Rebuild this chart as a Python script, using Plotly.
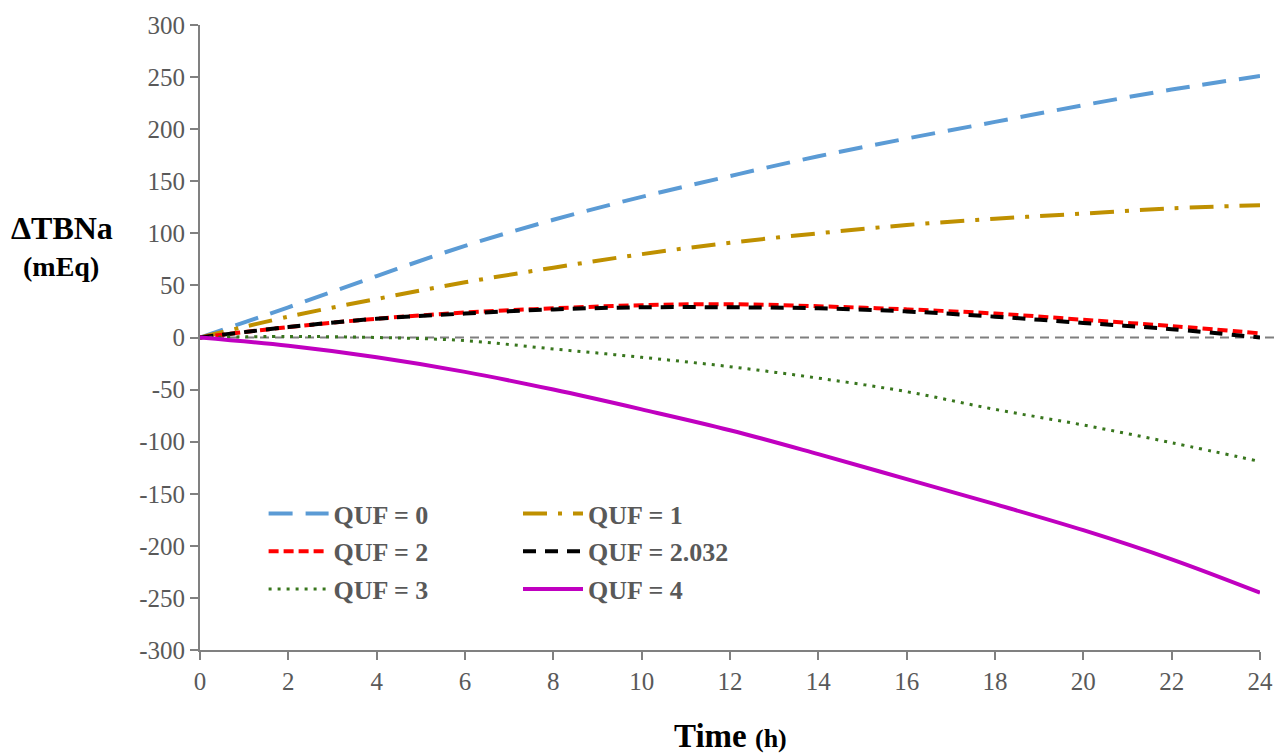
import plotly.graph_objects as go

time_h = [0, 2, 4, 6, 8, 10, 12, 14, 16, 18, 20, 22, 24]
quf_0 = [0, 29, 59, 88, 113, 135, 155, 174, 191, 207, 223, 238, 251]
quf_1 = [0, 20, 37, 53, 67, 80, 91, 100, 108, 114, 119, 124, 127]
quf_2 = [0, 10, 18, 24, 28, 31, 32, 30, 27, 23, 17, 11, 4]
quf_2032 = [0, 10, 18, 23, 27, 29, 29, 28, 25, 20, 14, 8, 0]
quf_3 = [0, 1, 0, -3, -11, -19, -28, -39, -52, -69, -84, -101, -119]
quf_4 = [0, -8, -19, -33, -50, -69, -89, -112, -136, -160, -185, -213, -245]

x_ticks = list(range(0, 25, 2))
y_ticks = list(range(-300, 301, 50))
y_tick_text = [str(v).replace("\u2212", "-") for v in y_ticks]

series = [
    ("QUF = 0", quf_0, "#5B9BD5", "24px,13px", 4, "legend"),
    ("QUF = 1", quf_1, "#BF9000", "24px,11px,4px,11px", 4, "legend2"),
    ("QUF = 2", quf_2, "#FF0000", "10px,5px", 4, "legend"),
    ("QUF = 2.032", quf_2032, "#000000", "13px,9px", 4, "legend2"),
    ("QUF = 3", quf_3, "#38761D", "3px,6px", 3, "legend"),
    ("QUF = 4", quf_4, "#C000C0", "solid", 4, "legend2"),
]

fig = go.Figure()
for i, (name, vals, color, dash, w, lg) in enumerate(series):
    fig.add_trace(go.Scatter(
        x=time_h, y=vals, name=name, mode="lines",
        line=dict(color=color, dash=dash, width=w, shape="spline"),
        legend=lg, legendgroup=f"g{i}",
    ))

FONT = "Liberation Serif, serif"
GRAY = "#595959"

fig.add_shape(type="line", xref="paper", yref="y", x0=0, x1=1.0151, y0=0, y1=0,
              line=dict(color="#7f7f7f", width=2, dash="9px,6px"), layer="below")

legend_common = dict(
    font=dict(family=FONT, size=26, color=GRAY, weight="bold"),
    bgcolor="rgba(0,0,0,0)", tracegroupgap=1, orientation="v",
    xanchor="left", yanchor="top", itemwidth=60,
)
axis_common = dict(
    showgrid=False, zeroline=False, showline=True, linecolor="#808080", linewidth=2,
    ticks="outside", ticklen=8, tickcolor="#808080", tickwidth=2,
    tickfont=dict(family=FONT, size=25, color=GRAY), automargin=False,
)
fig.update_layout(
    width=1276, height=754,
    margin=dict(l=200, r=16, t=25, b=104),
    plot_bgcolor="white", paper_bgcolor="white",
    legend=dict(x=0.06, y=0.256, **legend_common),
    legend2=dict(x=0.3, y=0.256, **legend_common),
    xaxis=dict(range=[0, 24], tickmode="array", tickvals=x_ticks, **axis_common),
    yaxis=dict(range=[-300, 300], tickmode="array", tickvals=y_ticks,
               ticktext=y_tick_text, **axis_common),
    showlegend=True,
)

fig.add_annotation(xref="paper", yref="paper", x=-0.130, y=0.675, xanchor="center", yanchor="middle",
                   text="<b>ΔTBNa</b>", showarrow=False,
                   font=dict(family=FONT, size=32, color="#000000"))
fig.add_annotation(xref="paper", yref="paper", x=-0.131, y=0.614, xanchor="center", yanchor="middle",
                   text="<b>(mEq)</b>", showarrow=False,
                   font=dict(family=FONT, size=28, color="#000000"))
fig.add_annotation(xref="paper", yref="paper", x=0.5, y=-0.137, xanchor="center", yanchor="middle",
                   text="<b>Time <span style='font-size:26px'>(h)</span></b>", showarrow=False,
                   font=dict(family=FONT, size=33, color="#000000"))

fig.write_html("out.html", config={"displayModeBar": False},
               post_script="document.body.style.margin='0';")
